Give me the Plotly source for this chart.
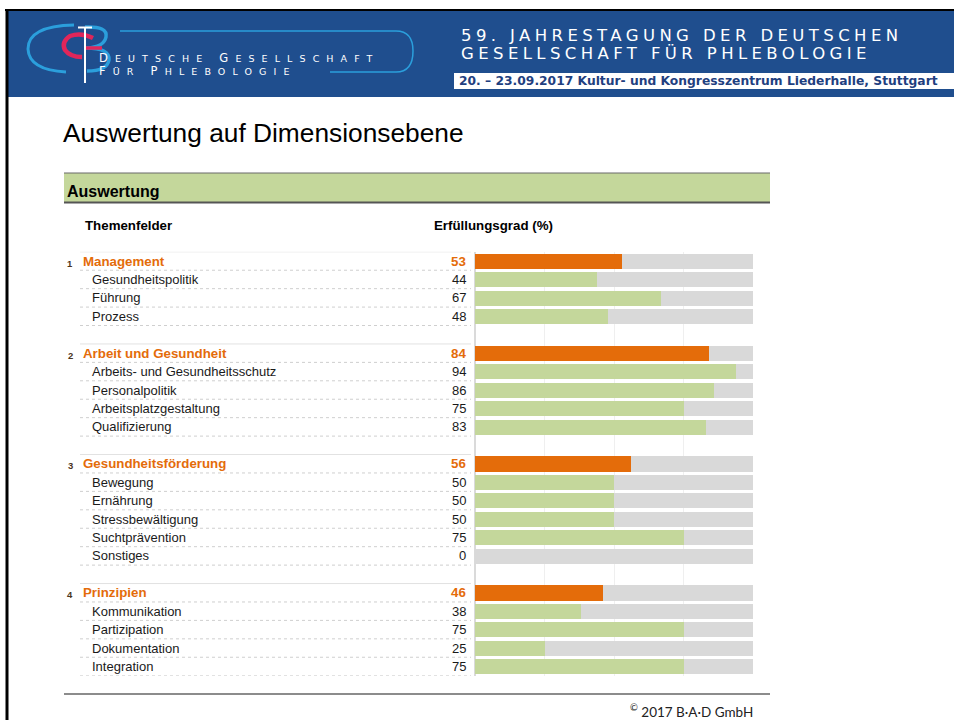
import plotly.graph_objects as go

# ---------------- data ----------------
groups = ["Management", "Arbeit und Gesundheit", "Gesundheitsförderung", "Prinzipien"]
group_values = [53, 84, 56, 46]
items = [
    ["Gesundheitspolitik", "Führung", "Prozess"],
    ["Arbeits- und Gesundheitsschutz", "Personalpolitik", "Arbeitsplatzgestaltung", "Qualifizierung"],
    ["Bewegung", "Ernährung", "Stressbewältigung", "Suchtprävention", "Sonstiges"],
    ["Kommunikation", "Partizipation", "Dokumentation", "Integration"],
]
item_values = [[44, 67, 48], [94, 86, 75, 83], [50, 50, 50, 75, 0], [38, 75, 25, 75]]
full_scale = 100

slide_title = "Auswertung auf Dimensionsebene"
band_title = "Auswertung"
col_left = "Themenfelder"
col_right = "Erfüllungsgrad (%)"
society_line1 = [("D", True), ("EUTSCHE ", False), ("G", True), ("ESELLSCHAFT", False)]
society_line2 = [("F", True), ("ÜR ", False), ("P", True), ("HLEBOLOGIE", False)]
conf_line1 = "59. JAHRESTAGUNG DER DEUTSCHEN"
conf_line2 = "GESELLSCHAFT FÜR PHLEBOLOGIE"
conf_date = "20. – 23.09.2017 Kultur- und Kongresszentrum Liederhalle, Stuttgart"
copyright_txt = "2017 B·A·D GmbH"

# ---------------- style ----------------
W, H = 954, 720
ORANGE = "#e46c0a"
GREEN = "#c4d79b"
GREY = "#d9d9d9"
BLUE = "#1f4e8e"
LIGHTBLUE = "#2b9fdc"
TXT = "#1a1a1a"
ARIAL = "Liberation Sans, Arial, sans-serif"
HEADF = "DejaVu Sans, sans-serif"

# rows of the table (blank row between groups)
rows = []
for gi, (g, gv, its, ivs) in enumerate(zip(groups, group_values, items, item_values)):
    if gi > 0:
        rows.append(("blank", None, None, None))
    rows.append(("group", g, gv, gi + 1))
    for it, iv in zip(its, ivs):
        rows.append(("item", it, iv, None))

n = len(rows)
ys = list(range(n))
bg_x = [full_scale if k != "blank" else None for k, _, _, _ in rows]
val_x = [v for _, _, v, _ in rows]
colors = [ORANGE if k == "group" else GREEN for k, _, _, _ in rows]

pitch = 18.43
top_px = 251.8
bot_px = top_px + n * pitch

fig = go.Figure()
fig.add_trace(go.Bar(y=ys, x=bg_x, orientation="h", width=0.82,
                     marker=dict(color=GREY, line=dict(width=0)),
                     hoverinfo="skip", showlegend=False))
fig.add_trace(go.Bar(y=ys, x=val_x, orientation="h", width=0.82,
                     marker=dict(color=colors, line=dict(width=0)),
                     showlegend=False))
# invisible trace for the pixel-coordinate overlay axes
fig.add_trace(go.Scatter(x=[None], y=[None], xaxis="x2", yaxis="y2",
                         showlegend=False, hoverinfo="skip"))

shapes = []
ann = []


def pline(x0, y0, x1, y1, color, width, dash="solid"):
    shapes.append(dict(type="line", xref="x2", yref="y2", x0=x0, y0=y0, x1=x1, y1=y1,
                       line=dict(color=color, width=width, dash=dash)))


def prect(x0, y0, x1, y1, fill):
    shapes.append(dict(type="rect", xref="x2", yref="y2", x0=x0, y0=y0, x1=x1, y1=y1,
                       fillcolor=fill, line=dict(width=0), layer="below"))


def ppath(path, color, width):
    shapes.append(dict(type="path", xref="x2", yref="y2", path=path,
                       line=dict(color=color, width=width), fillcolor="rgba(0,0,0,0)"))


def ptext(x, y, text, size, color, family=ARIAL, xanchor="left", yanchor="middle", yref="y2"):
    ann.append(dict(xref="x2", yref=yref, x=x, y=y, text=text, showarrow=False,
                    xanchor=xanchor, yanchor=yanchor, align="left",
                    font=dict(size=size, color=color, family=family)))


def small_caps(parts, big, small, spacing):
    out = []
    for txt, is_big in parts:
        fs = big if is_big else small
        out.append(f'<span style="font-size:{fs}px;letter-spacing:{spacing}px">{txt}</span>')
    return "".join(out)


# ---- header band ----
prect(8, 11, W, 97, BLUE)
pline(5, 10, W, 10, "#000000", 2)
pline(7, 9, 7, H, "#000000", 3)
prect(454, 73, W, 89, "#ffffff")

# logo
ppath("M 74 25 Q 28 26 28 49 Q 29 70 66 72", LIGHTBLUE, 3)
ppath("M 120 31 L 396 31 Q 413 31 413 51 Q 413 72 396 72 L 330 72", LIGHTBLUE, 1.5)
ppath("M 85 27 Q 108 26 106 37 Q 104 47 87 48", LIGHTBLUE, 3.5)
ppath("M 86 48 Q 110 48 109 60 Q 107 71 87 71", LIGHTBLUE, 3.5)
ppath("M 93 38 Q 81 32 70 36 Q 61 42 65 50 Q 70 57 82 57", "#e0265a", 4.5)
pline(86, 48, 102, 48, "#e0265a", 3.5)
pline(85, 27, 85, 83, "#ffffff", 2)
pline(78, 27.5, 92, 27.5, "#ffffff", 2)

logo_txt = (small_caps(society_line1, 11.5, 9.5, 7.1) + "<br>" +
            small_caps(society_line2, 11.5, 9.5, 7.1))
ptext(97, 64, logo_txt, 10, "#ffffff", HEADF)

conf_txt = (f'<span style="font-size:16.5px;letter-spacing:4.4px">{conf_line1}</span><br>'
            f'<span style="font-size:16.5px;letter-spacing:4.4px">{conf_line2}</span>')
ptext(459, 44, conf_txt, 14, "#ffffff", HEADF)
ptext(457, 81, f"<b>{conf_date}</b>", 12.3, "#1f3f80", HEADF)

# ---- title & band ----
ptext(61, 133, slide_title, 26.3, "#000000")
prect(64, 173, 770, 203, GREEN)
pline(64, 173, 770, 173, "#6b6b6b", 1.2)
pline(64, 202.5, 770, 202.5, "#555555", 2)
ptext(65, 191.5, f"<b>{band_title}</b>", 16, "#000000")
ptext(83, 225, f"<b>{col_left}</b>", 13.3, "#000000")
ptext(432, 225, f"<b>{col_right}</b>", 13.3, "#000000")

# ---- table rows ----
for r, (kind, label, val, gno) in enumerate(rows):
    if kind == "blank":
        continue
    if kind == "group":
        shapes.append(dict(type="line", xref="x2", yref="y", x0=80, x1=471, y0=r - 0.5, y1=r - 0.5,
                           line=dict(color="#e2e2e2", width=1)))
        ptext(70, r + 0.12, f"<b>{gno}</b>", 9.5, "#4a3520", xanchor="center", yref="y")
        ptext(81, r, f"<b>{label}</b>", 13.3, ORANGE, yref="y")
        ptext(468, r, f"<b>{val}</b>", 13.3, ORANGE, xanchor="right", yref="y")
    else:
        ptext(90, r, label, 13, TXT, yref="y")
        ptext(468, r, str(val), 13, TXT, xanchor="right", yref="y")
    shapes.append(dict(type="line", xref="x2", yref="y", x0=80, x1=471, y0=r + 0.5, y1=r + 0.5,
                       line=dict(color="#cfcfcf", width=1, dash="dot")))

# ---- footer ----
pline(64, 694, 770, 694, "#666666", 1.5)
ptext(755, 710.5, f"<sup>©</sup> {copyright_txt}", 13.5, "#222222", "Lato, Open Sans, sans-serif",
      xanchor="right")

fig.update_layout(
    width=W, height=H, autosize=False,
    margin=dict(l=0, r=0, t=0, b=0, pad=0),
    paper_bgcolor="#ffffff", plot_bgcolor="rgba(0,0,0,0)",
    barmode="overlay", bargap=0,
    showlegend=False,
    xaxis=dict(domain=[475 / W, 753 / W], range=[0, full_scale], dtick=25, tick0=0,
               showgrid=True, gridcolor="#efefef", gridwidth=1,
               zeroline=True, zerolinecolor="#dadada", zerolinewidth=1.5,
               showticklabels=False, ticks="", showline=False, fixedrange=True),
    yaxis=dict(domain=[1 - bot_px / H, 1 - top_px / H], range=[n - 0.5, -0.5],
               showgrid=False, zeroline=False, showticklabels=False, ticks="",
               showline=False, fixedrange=True),
    xaxis2=dict(domain=[0, 1], range=[0, W], visible=False, anchor="y2", fixedrange=True),
    yaxis2=dict(domain=[0, 1], range=[H, 0], visible=False, anchor="x2", fixedrange=True),
    shapes=shapes,
    annotations=ann,
)

fig.write_html("out.html")
